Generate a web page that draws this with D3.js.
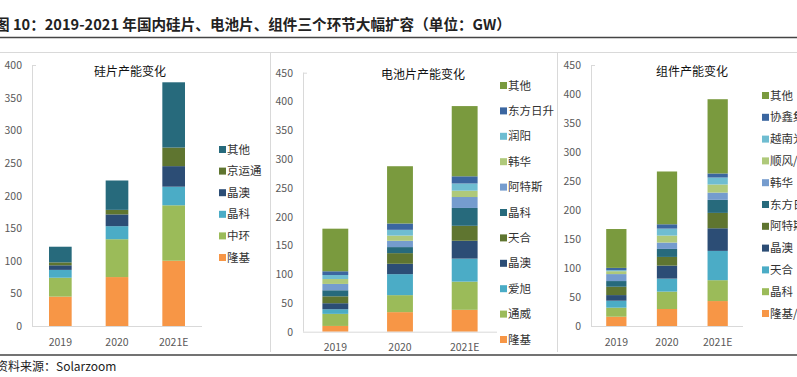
<!DOCTYPE html>
<html>
<head>
<meta charset="utf-8">
<script src="https://cdn.jsdelivr.net/npm/d3@7"></script>
<style>
  body { margin: 0; background: #fff; }
  svg { display: block; font-family: "Noto Sans CJK SC", "Noto Sans", sans-serif; }
</style>
</head>
<body>
<div id="chart"></div>
<script>
// years on the x axis (same for all three panels)
const years = ['2019', '2020', '2021E'];

// wafer capacity (GW), bottom -> top
const waferNames = ['隆基', '中环', '晶科', '晶澳', '京运通', '其他'];
const waferValues = [
  [45, 75, 100],
  [29, 58, 85],
  [12, 20, 28.5],
  [7, 18, 31.5],
  [4.5, 7, 28.5],
  [24, 45, 100]
];
const waferTicks = [0, 50, 100, 150, 200, 250, 300, 350, 400];

// cell capacity (GW)
const cellNames = ['隆基', '通威', '爱旭', '晶澳', '天合', '晶科', '阿特斯', '韩华', '润阳', '东方日升', '其他'];
const cellValues = [
  [10, 34, 38],
  [21, 29.5, 49],
  [8, 36.5, 40],
  [10.5, 18, 31],
  [12, 18.5, 26],
  [10.5, 10.5, 31],
  [11, 11, 19],
  [8.5, 9, 11],
  [7, 10, 12.5],
  [6.5, 11, 12.5],
  [74, 99.5, 122]
];

// module capacity (GW)
const moduleNames = ['隆基/乐叶', '晶科', '天合', '晶澳', '阿特斯', '东方日升', '韩华', '顺风/尚德', '越南光伏', '协鑫集成', '其他'];
const moduleValues = [
  [16, 29.3, 43],
  [15.6, 30, 36],
  [12, 22.4, 50.5],
  [9.7, 22.4, 39],
  [14.4, 15, 26.5],
  [9.8, 13.8, 22.5],
  [12, 11, 12.5],
  [5, 12, 14],
  [1.7, 12, 12],
  [4, 7.5, 7],
  [67, 91, 128]
];
const bigTicks = [0, 50, 100, 150, 200, 250, 300, 350, 400, 450];

const palette = ['#F79646', '#9BBB59', '#4BACC6', '#2C4D75', '#5F7530', '#276A7C',
                 '#759CCE', '#AFC97A', '#6FBDD1', '#3B66A0', '#7A9A3E'];

const W = 797, H = 377;
const svg = d3.select('#chart').append('svg').attr('width', W).attr('height', H);

// header
svg.append('text').attr('x', -5).attr('y', 30)
  .attr('font-size', '14.6px').attr('font-weight', 700).attr('fill', '#222')
  .text('图 10：2019-2021 年国内硅片、电池片、组件三个环节大幅扩容（单位：GW）');
svg.append('line').attr('x1', 0).attr('x2', W).attr('y1', 37.5).attr('y2', 37.5)
  .attr('stroke', '#444').attr('stroke-width', 1.5);

// panel frame
svg.append('line').attr('x1', 0).attr('x2', W).attr('y1', 52.5).attr('y2', 52.5).attr('stroke', '#d9d9d9');
[270.5, 557.5].forEach(x => {
  svg.append('line').attr('x1', x).attr('x2', x).attr('y1', 52).attr('y2', 352).attr('stroke', '#d9d9d9');
});

// footer
svg.append('line').attr('x1', 0).attr('x2', W).attr('y1', 355).attr('y2', 355)
  .attr('stroke', '#444').attr('stroke-width', 1.5);
svg.append('text').attr('x', -4).attr('y', 371)
  .attr('font-size', '12px').attr('fill', '#222').text('资料来源：Solarzoom');

function panel(cfg) {
  const y = d3.scaleLinear().domain([0, cfg.max]).range([cfg.yBot, cfg.yTop]);
  const x = d3.scaleBand().domain(years).range([cfg.x0, cfg.x1]).padding(0);
  const bw = x.bandwidth() * 0.4;
  const g = svg.append('g');

  // y axis
  g.append('line').attr('x1', cfg.x0 + 0.5).attr('x2', cfg.x0 + 0.5)
    .attr('y1', cfg.yTop).attr('y2', cfg.yBot).attr('stroke', '#d9d9d9');
  g.append('line').attr('x1', cfg.x0).attr('x2', cfg.x0 + 4)
    .attr('y1', cfg.yTop + 0.5).attr('y2', cfg.yTop + 0.5).attr('stroke', '#d9d9d9');
  cfg.ticks.forEach(t => {
    g.append('text').attr('x', cfg.x0 - 10).attr('y', y(t) + 4)
      .attr('text-anchor', 'end').attr('font-size', '10.5px').attr('fill', '#595959')
      .text(t);
  });

  // stacked bars
  const rows = years.map((yr, i) => {
    const o = { year: yr };
    cfg.names.forEach((n, k) => { o[n] = cfg.values[k][i]; });
    return o;
  });
  const series = d3.stack().keys(cfg.names)(rows);
  series.forEach((s, k) => {
    g.selectAll(null).data(s).enter().append('rect')
      .attr('x', d => x(d.data.year) + x.bandwidth() / 2 - bw / 2)
      .attr('width', bw)
      .attr('y', d => y(d[1]))
      .attr('height', d => y(d[0]) - y(d[1]))
      .attr('fill', cfg.colors[k]);
  });

  // x axis
  g.append('line').attr('x1', cfg.x0).attr('x2', cfg.x1)
    .attr('y1', cfg.yBot + 0.5).attr('y2', cfg.yBot + 0.5).attr('stroke', '#d9d9d9');
  years.forEach(yr => {
    g.append('text').attr('x', x(yr) + x.bandwidth() / 2).attr('y', cfg.xLabY)
      .attr('text-anchor', 'middle').attr('font-size', '10.5px').attr('fill', '#595959')
      .text(yr);
  });

  // title
  g.append('text').attr('x', cfg.titleX).attr('y', cfg.titleY)
    .attr('text-anchor', 'middle').attr('font-size', '12px').attr('fill', '#111')
    .text(cfg.title);

  // legend, top item = last series
  const legendNames = cfg.names.slice().reverse();
  legendNames.forEach((n, i) => {
    const k = cfg.names.indexOf(n);
    const ly = cfg.legY + i * cfg.legDy;
    g.append('rect').attr('x', cfg.legX).attr('y', ly - 3).attr('width', 7).attr('height', 7)
      .attr('fill', cfg.colors[k]);
    g.append('text').attr('x', cfg.legX + 8).attr('y', ly + 4.5)
      .attr('font-size', '11.5px').attr('fill', '#333').text(n);
  });
}

panel({
  title: '硅片产能变化', names: waferNames, values: waferValues, ticks: waferTicks, max: 400,
  colors: palette.slice(0, 6),
  x0: 32, x1: 202, yTop: 65, yBot: 326, xLabY: 346,
  titleX: 130, titleY: 76, legX: 219, legY: 149, legDy: 21.6
});
panel({
  title: '电池片产能变化', names: cellNames, values: cellValues, ticks: bigTicks, max: 450,
  colors: palette,
  x0: 303, x1: 497, yTop: 72.7, yBot: 331.7, xLabY: 351,
  titleX: 423, titleY: 79, legX: 500, legY: 85, legDy: 25.4
});
panel({
  title: '组件产能变化', names: moduleNames, values: moduleValues, ticks: bigTicks, max: 450,
  colors: palette,
  x0: 591, x1: 743, yTop: 65, yBot: 326, xLabY: 346,
  titleX: 692, titleY: 76, legX: 762, legY: 95, legDy: 21.8
});
</script>
</body>
</html>
